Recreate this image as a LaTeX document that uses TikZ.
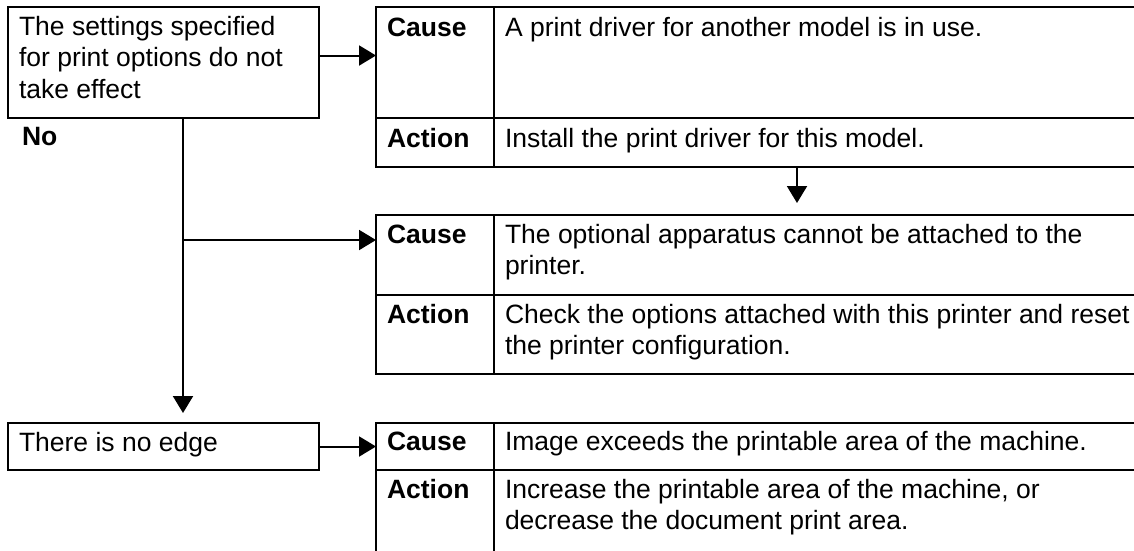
\documentclass[tikz,border=0pt]{standalone}
\usepackage{fontspec}
\setmainfont{Liberation Sans}
\usetikzlibrary{arrows.meta}
\tikzset{
  frame/.style={draw, line width=2pt, inner sep=0pt, outer sep=0pt, anchor=north west},
  txt/.style={inner sep=0pt, outer sep=0pt, anchor=base west, font=\fontsize{26.5}{31.5}\selectfont},
  lbl/.style={txt, font=\fontsize{26.5}{31.5}\selectfont\bfseries},
  link/.style={line width=2pt, -{Triangle[length=17pt,width=20pt]}},
}
\newcommand\celltext[1]{\parbox[t]{640pt}{#1}}
\begin{document}
\begin{tikzpicture}[x=1pt,y=-1pt]
\useasboundingbox (0,0) rectangle (1134,550);
\clip (0,0) rectangle (1134,550);
\fill[white] (0,0) rectangle (1134,550);

% left boxes
\node[frame, minimum width=311pt, minimum height=111pt] (box1) at (8,7) {};
\node[txt] (box1t) at ([xshift=11pt,yshift=-28pt]box1.north west) {\celltext{The settings specified\\for print options do not\\take effect}};
\node[lbl] (no) at ([xshift=14pt,yshift=-27pt]box1.south west) {No};

\node[frame, minimum width=311pt, minimum height=47pt] (box2) at (8,423) {};
\node[txt] (box2t) at ([xshift=11pt,yshift=-28pt]box2.north west) {There is no edge};

% table 1
\node[frame, minimum width=118pt, minimum height=111pt] (t1c) at (376,7) {};
\node[frame, minimum width=642pt, minimum height=111pt] (t1cx) at (t1c.north east) {};
\node[frame, minimum width=118pt, minimum height=49pt] (t1a) at (t1c.south west) {};
\node[frame, minimum width=642pt, minimum height=49pt] (t1ax) at (t1a.north east) {};
\node[lbl] (t1cl) at ([xshift=11pt,yshift=-29pt]t1c.north west) {Cause};
\node[txt] (t1ct) at ([xshift=11pt,yshift=-29pt]t1cx.north west) {\celltext{A print driver for another model is in use.}};
\node[lbl] (t1al) at ([xshift=11pt,yshift=-29pt]t1a.north west) {Action};
\node[txt] (t1at) at ([xshift=11pt,yshift=-29pt]t1ax.north west) {\celltext{Install the print driver for this model.}};

% table 2
\node[frame, minimum width=118pt, minimum height=80pt] (t2c) at (376,215) {};
\node[frame, minimum width=642pt, minimum height=80pt] (t2cx) at (t2c.north east) {};
\node[frame, minimum width=118pt, minimum height=79pt] (t2a) at (t2c.south west) {};
\node[frame, minimum width=642pt, minimum height=79pt] (t2ax) at (t2a.north east) {};
\node[lbl] (t2cl) at ([xshift=11pt,yshift=-28pt]t2c.north west) {Cause};
\node[txt] (t2ct) at ([xshift=11pt,yshift=-28pt]t2cx.north west) {\celltext{The optional apparatus cannot be attached to the\\printer.}};
\node[lbl] (t2al) at ([xshift=11pt,yshift=-28pt]t2a.north west) {Action};
\node[txt] (t2at) at ([xshift=11pt,yshift=-28pt]t2ax.north west) {\celltext{Check the options attached with this printer and reset\\the printer configuration.}};

% table 3
\node[frame, minimum width=118pt, minimum height=47pt] (t3c) at (376,423) {};
\node[frame, minimum width=642pt, minimum height=47pt] (t3cx) at (t3c.north east) {};
\node[frame, minimum width=118pt, minimum height=90pt] (t3a) at (t3c.south west) {};
\node[frame, minimum width=642pt, minimum height=90pt] (t3ax) at (t3a.north east) {};
\node[lbl] (t3cl) at ([xshift=11pt,yshift=-27pt]t3c.north west) {Cause};
\node[txt] (t3ct) at ([xshift=11pt,yshift=-27pt]t3cx.north west) {\celltext{Image exceeds the printable area of the machine.}};
\node[lbl] (t3al) at ([xshift=11pt,yshift=-28pt]t3a.north west) {Action};
\node[txt] (t3at) at ([xshift=11pt,yshift=-28pt]t3ax.north west) {\celltext{Increase the printable area of the machine, or\\decrease the document print area.}};

% connectors
\coordinate (a1) at ([yshift=7pt]box1.east);
\draw[link] (a1) -- (a1 -| t1c.west);
\coordinate (d1) at ([xshift=-18pt]t1ax.south);
\draw[link, shorten >=12pt] (d1) -- (d1 |- t2cx.north);
\coordinate (v0) at ([xshift=19.5pt]box1.south);
\draw[link, shorten >=10pt] (v0) -- (v0 |- box2.north);
\coordinate (b1) at ([yshift=15pt]t2c.west);
\draw[link] (v0 |- b1) -- (b1);
\draw[link] (box2.east) -- (box2.east -| t3c.west);
\end{tikzpicture}
\end{document}
